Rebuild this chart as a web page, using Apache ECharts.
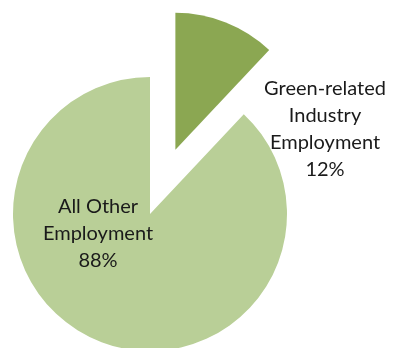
<!DOCTYPE html>
<html>
<head>
<meta charset="utf-8">
<script src="https://cdn.jsdelivr.net/npm/echarts@6/dist/echarts.min.js"></script>
<style>html,body{margin:0;padding:0;background:#fff}#c{width:394px;height:348px}</style>
</head>
<body>
<div id="c"></div>
<script>
const categories = ['Green-related\nIndustry\nEmployment', 'All Other\nEmployment'];
const values = [12, 88];
const colors = ['#8ba752', '#b9cf97'];

const chart = echarts.init(document.getElementById('c'), null, {renderer: 'canvas'});
const R = 137;
const explode = 69;
const mainCenter = [150, 214];
// exploded slice: shift its centre along its mid-angle
const midDeg = 90 - (values[0] / (values[0] + values[1])) * 180;
const midRad = midDeg * Math.PI / 180;
const explodedCenter = [mainCenter[0] + explode * Math.cos(midRad), mainCenter[1] - explode * Math.sin(midRad)];
const labelPos = [[325, 129], [98, 234]];

function makeSeries(visibleIndex, center) {
  return {
    type: 'pie',
    center: center,
    radius: R,
    startAngle: 90,
    clockwise: true,
    silent: true,
    emphasis: {disabled: true},
    label: {
      show: true,
      position: 'inside',
      formatter: p => p.name + '\n' + p.value + '%',
      fontFamily: 'Lato',
      fontSize: 20,
      lineHeight: 27,
      color: '#1a1a1a',
      align: 'center'
    },
    labelLine: {show: false},
    labelLayout: function (p) {
      const pos = labelPos[visibleIndex];
      return {x: pos[0], y: pos[1], align: 'center', verticalAlign: 'middle'};
    },
    data: categories.map((c, i) => ({
      name: c,
      value: values[i],
      itemStyle: {color: i === visibleIndex ? colors[i] : 'rgba(0,0,0,0)'},
      label: {show: i === visibleIndex}
    }))
  };
}

chart.setOption({
  animation: false,
  series: [makeSeries(1, mainCenter), makeSeries(0, explodedCenter)]
});
</script>
</body>
</html>
